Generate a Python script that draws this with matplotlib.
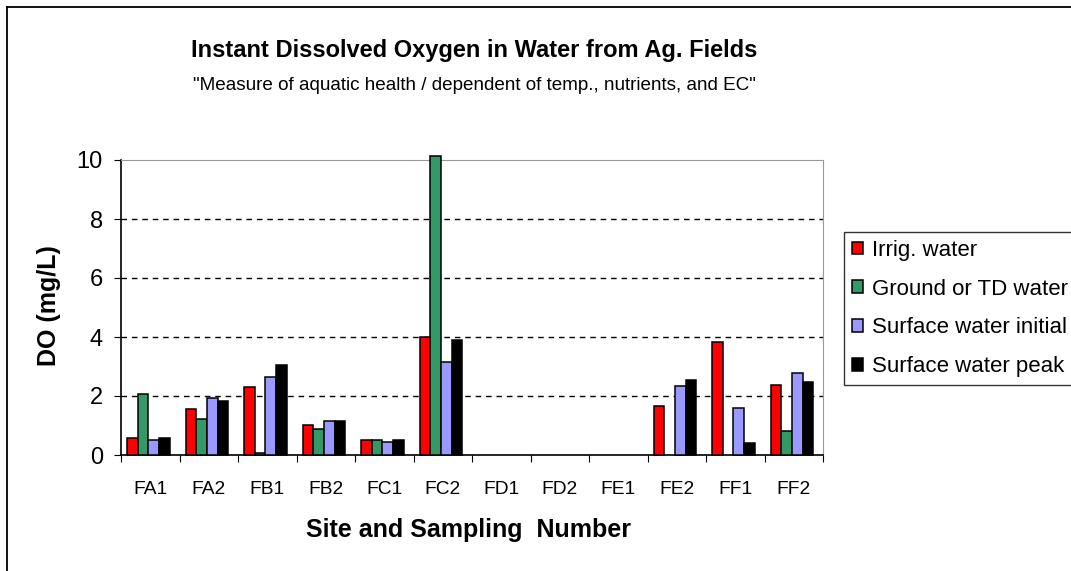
# -*- coding: utf-8 -*-
import numpy as np
import matplotlib
matplotlib.use('Agg')
import matplotlib.pyplot as plt
from matplotlib.lines import Line2D

sites = ['FA1', 'FA2', 'FB1', 'FB2', 'FC1', 'FC2', 'FD1', 'FD2', 'FE1', 'FE2', 'FF1', 'FF2']
nan = np.nan
irrig = [0.56, 1.55, 2.32, 1.03, 0.50, 4.01, nan, nan, nan, 1.67, 3.82, 2.38]
ground = [2.06, 1.22, 0.06, 0.89, 0.50, 10.15, nan, nan, nan, nan, nan, 0.82]
surf_init = [0.50, 1.93, 2.64, 1.15, 0.43, 3.16, nan, nan, nan, 2.33, 1.60, 2.78]
surf_peak = [0.59, 1.82, 3.05, 1.16, 0.51, 3.90, nan, nan, nan, 2.54, 0.40, 2.47]

series = [irrig, ground, surf_init, surf_peak]
labels = ['Irrig. water', 'Ground or TD water', 'Surface water initial', 'Surface water peak']
colors = ['#FF0000', '#339966', '#9999FF', '#000000']

plt.rcParams['font.family'] = ['Liberation Sans', 'DejaVu Sans']

W, H = 1071, 571
fig = plt.figure(figsize=(W / 100, H / 100), dpi=100)
ax = fig.add_axes([121 / W, 1 - 455 / H, (823 - 121) / W, (455 - 160) / H])

x = np.arange(len(sites))
bw = 0.1825
for i, (vals, lab, col) in enumerate(zip(series, labels, colors)):
    ax.bar(x + (i - 1.5) * bw - 0.03, vals, width=bw, color=col, edgecolor='black',
           linewidth=1.1, label=lab, zorder=3, clip_on=False)

ax.set_xlim(-0.5, len(sites) - 0.5)
ax.set_ylim(0, 10)
ax.set_yticks([0, 2, 4, 6, 8, 10])
ax.tick_params(axis='y', labelsize=17, length=5, direction='out', pad=8)

# category boundaries get the tick marks, names sit in between
ax.set_xticks(np.arange(len(sites) + 1) - 0.5)
ax.set_xticklabels([])
ax.set_xticks(x, minor=True)
ax.set_xticklabels(sites, minor=True)
ax.tick_params(axis='x', which='major', length=5, direction='out')
ax.tick_params(axis='x', which='minor', length=0, labelsize=13.8, pad=19)

for y in [2, 4, 6, 8]:
    ax.axhline(y, color='black', linewidth=1, linestyle=(0, (4, 3.5)), zorder=1)

ax.spines['top'].set_color('#999999')
ax.spines['right'].set_color('#999999')
ax.spines['left'].set_linewidth(1.2)
ax.spines['bottom'].set_linewidth(1.2)

fig.text(49 / W, 1 - 306 / H, 'DO (mg/L)', rotation=90, ha='center', va='center',
         fontsize=18, fontweight='bold')
fig.text(468 / W, 1 - 530 / H, 'Site and Sampling  Number', ha='center', va='center',
         fontsize=18, fontweight='bold')

fig.text(474 / W, 1 - 50 / H, 'Instant Dissolved Oxygen in Water from Ag. Fields',
         ha='center', va='center', fontsize=17, fontweight='bold')
fig.text(474 / W, 1 - 86 / H,
         '"Measure of aquatic health / dependent of temp., nutrients, and EC"',
         ha='center', va='center', fontsize=13.6)

leg = fig.legend(loc='upper left', bbox_to_anchor=(844 / W, 1 - 232 / H), fontsize=16,
                 frameon=True, fancybox=False, edgecolor='black', handlelength=0.5,
                 handleheight=0.5, handletextpad=0.4, labelspacing=0.8, borderpad=0.35,
                 borderaxespad=0)
leg.get_frame().set_linewidth(1)

# outer chart border, only left and top show inside the picture
fig.add_artist(Line2D([7 / W, 7 / W], [0, 1 - 7 / H], color='black', linewidth=1.3))
fig.add_artist(Line2D([7 / W, 1], [1 - 7 / H, 1 - 7 / H], color='black', linewidth=1.3))

fig.savefig('out.png', dpi=100)
